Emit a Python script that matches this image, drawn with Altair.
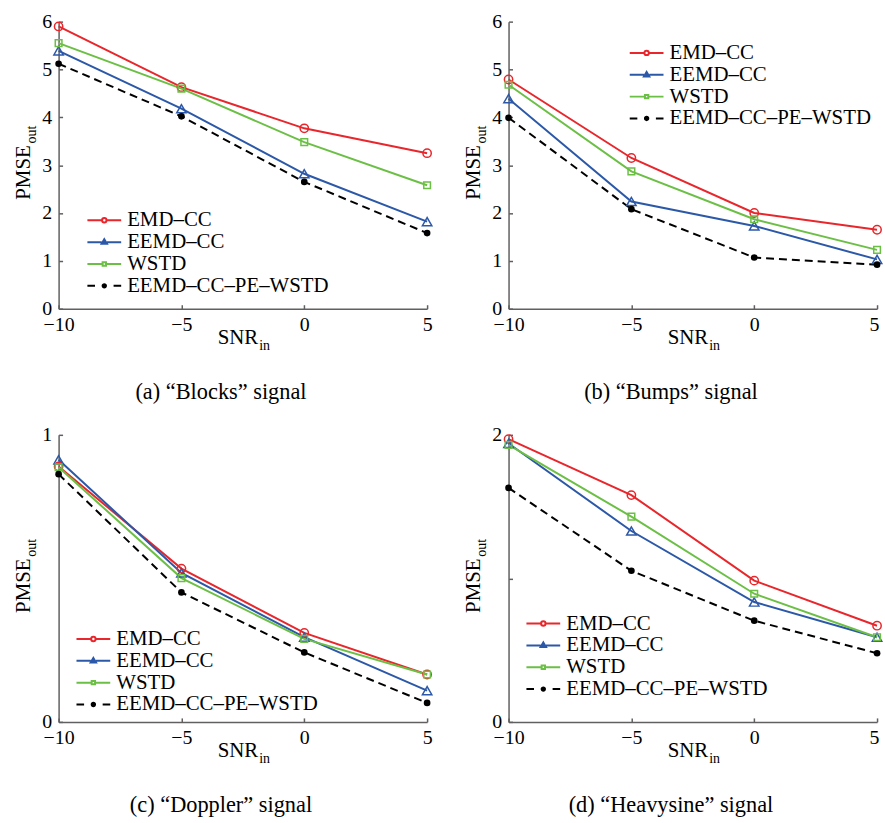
import altair as alt
import pandas as pd

SNR = [-10, -5, 0, 5]
METHODS = ["EMD–CC", "EEMD–CC", "WSTD", "EEMD–CC–PE–WSTD"]

blocks_emd = [5.90, 4.63, 3.77, 3.25]
blocks_eemd = [5.39, 4.18, 2.82, 1.82]
blocks_wstd = [5.55, 4.60, 3.48, 2.58]
blocks_prop = [5.12, 4.02, 2.65, 1.58]

bumps_emd = [4.79, 3.15, 2.00, 1.65]
bumps_eemd = [4.39, 2.24, 1.73, 1.03]
bumps_wstd = [4.68, 2.87, 1.87, 1.23]
bumps_prop = [3.99, 2.08, 1.07, 0.92]

doppler_emd = [0.89, 0.534, 0.31, 0.165]
doppler_eemd = [0.913, 0.519, 0.295, 0.109]
doppler_wstd = [0.887, 0.501, 0.289, 0.165]
doppler_prop = [0.863, 0.451, 0.242, 0.066]

heavy_emd = [1.97, 1.58, 0.984, 0.67]
heavy_eemd = [1.94, 1.33, 0.835, 0.59]
heavy_wstd = [1.93, 1.43, 0.893, 0.59]
heavy_prop = [1.63, 1.053, 0.705, 0.478]

COLORS = ["#e8262b", "#2c58a8", "#6cbf45", "#000000"]
DASHES = [None, None, None, [8, 5]]
FONT = "Liberation Serif"
AXIS_GRAY = "#606060"
W, H = 371, 289

LEG_PATHS = [
    "M-1,0H-0.13M0.13,0H1M0.13,0A0.13,0.13 0 1,1 -0.13,0A0.13,0.13 0 1,1 0.13,0Z",
    "M-1,0H-0.16M0.16,0H1M0,-0.17L0.16,0.1L-0.16,0.1Z",
    "M-1,0H-0.1M0.1,0H1M-0.1,-0.1H0.1V0.1H-0.1Z",
    "M-1,0H-0.55M0.55,0H1M0.1,0A0.1,0.1 0 1,1 -0.1,0A0.1,0.1 0 1,1 0.1,0Z",
]
LEG_FILLS = ["white", COLORS[1], "white", "black"]
MARK_SHAPES = ["circle", "triangle-up", "square", "circle"]
MARK_SIZES = [70, 90, 45, 45]


def txt(s, x, y, size, angle=0, align="left"):
    return alt.Chart(pd.DataFrame({"t": [s]})).mark_text(
        font=FONT, fontSize=size, angle=angle, align=align, baseline="alphabetic", color="black"
    ).encode(x=alt.value(x), y=alt.value(y), text="t:N")


def panel(series, ymax, yticks, caption, lx, ly, right=False):
    df = pd.DataFrame({
        "snr": SNR * 4,
        "pmse": [v for s in series for v in s],
        "method": [m for m in METHODS for _ in SNR],
    })
    xs = alt.Scale(domain=[-10, 5], nice=False, zero=False)
    ys = alt.Scale(domain=[0, ymax], nice=False)
    base = alt.Chart(df)

    def legend():
        return alt.Legend(
            orient="none", legendX=lx, legendY=ly, title=None, padding=0,
            labelFont=FONT, labelFontSize=21, labelColor="black", labelLimit=400,
            labelOffset=5, symbolOffset=0, symbolSize=34 * 34, rowPadding=0, clipHeight=19,
            symbolStrokeWidth=2, symbolOpacity=1,
        )

    x_label_offset = {"condition": {"test": "datum.value === 5", "value": -3}, "value": 0} if right else 0
    layers = []
    for i, m in enumerate(METHODS):
        if i == 0:
            xa = alt.Axis(orient="bottom", values=SNR, ticks=False, tickSize=0, title=None, labelPadding=6,
                          grid=False, labelFlush=False, labelOffset=x_label_offset)
            ya = alt.Axis(orient="left", values=yticks, ticks=False, tickSize=0, title=None, labelPadding=7,
                          grid=False, format="d", labelFlush=False)
        else:
            xa = None
            ya = None
        line_kw = dict(color=COLORS[i], strokeWidth=2)
        if DASHES[i]:
            line_kw["strokeDash"] = DASHES[i]
        layers.append(
            base.transform_filter(alt.datum.method == m).mark_line(**line_kw).encode(
                x=alt.X("snr:Q", scale=xs, axis=xa),
                y=alt.Y("pmse:Q", scale=ys, axis=ya),
            )
        )
    for i, m in enumerate(METHODS):
        if i == 0:
            xa = alt.Axis(orient="top", offset=-H, values=SNR, labels=False, domain=False,
                          ticks=True, tickSize=4, title=None, grid=False)
            ya = alt.Axis(orient="right", offset=-W, values=yticks, labels=False,
                          domain=False, ticks=True, tickSize=4, title=None, grid=False)
        else:
            xa = None
            ya = None
        layers.append(
            base.transform_filter(alt.datum.method == m).mark_point(
                shape=MARK_SHAPES[i], size=MARK_SIZES[i], filled=(i == 3), color=COLORS[i],
                strokeWidth=1.5, opacity=1,
            ).encode(
                x=alt.X("snr:Q", scale=xs, axis=xa),
                y=alt.Y("pmse:Q", scale=ys, axis=ya),
            )
        )
    leg = base.transform_filter("false").mark_point(filled=False, size=34 * 34, strokeWidth=2).encode(
        color=alt.Color("method:N", scale=alt.Scale(domain=METHODS, range=COLORS), legend=legend()),
        shape=alt.Shape("method:N", scale=alt.Scale(domain=METHODS, range=LEG_PATHS), legend=legend()),
        fill=alt.Fill("method:N", scale=alt.Scale(domain=METHODS, range=LEG_FILLS), legend=legend()),
    )
    layers.append(leg)
    layers += [
        txt("PMSE", -29, 179.3, 21, angle=270),
        txt("out", -23, 122.7, 14, angle=270),
        txt("SNR", 201, H + 35.3, 21, align="right"),
        txt("in", 202, H + 41.3, 14),
        txt(caption, 163.5, H + 91, 22.5, align="center"),
    ]
    return alt.layer(*layers).resolve_scale(x="shared", y="shared").resolve_axis(
        x="independent", y="independent").properties(width=W, height=H)


pa = panel([blocks_emd, blocks_eemd, blocks_wstd, blocks_prop], 6, [0, 1, 2, 3, 4, 5, 6],
           "(a) “Blocks” signal", 28, 190.5)
pb = panel([bumps_emd, bumps_eemd, bumps_wstd, bumps_prop], 6, [0, 1, 2, 3, 4, 5, 6],
           "(b) “Bumps” signal", 121, 22, right=True)
pc = panel([doppler_emd, doppler_eemd, doppler_wstd, doppler_prop], 1, [0, 1],
           "(c) “Doppler” signal", 17, 196)
pd_ = panel([heavy_emd, heavy_eemd, heavy_wstd, heavy_prop], 2, [0, 1, 2],
            "(d) “Heavysine” signal", 17, 180.5, right=True)

chart = alt.concat(pa, pb, pc, pd_, columns=2, spacing={"row": 127, "column": 82}, bounds="flush").resolve_scale(
    color="independent", shape="independent", fill="independent"
).properties(
    padding={"left": 13, "top": 9, "right": 0, "bottom": 0}, background="white"
).configure_view(stroke=None).configure_axis(
    domainColor=AXIS_GRAY, domainWidth=1.5, tickColor=AXIS_GRAY, tickWidth=1.5,
    labelFont=FONT, labelFontSize=20, labelColor="black",
)

chart.save("out.html", embed_options={"renderer": "svg", "actions": False})
